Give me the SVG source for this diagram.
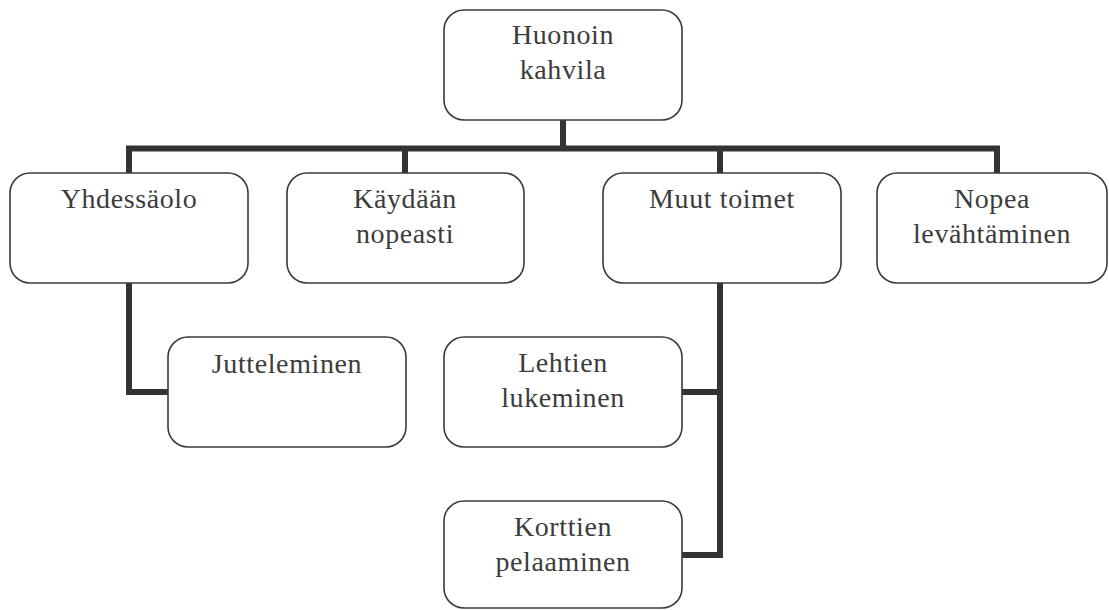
<svg xmlns="http://www.w3.org/2000/svg" width="1109" height="610" viewBox="0 0 1109 610">
  <style>
    .box { fill: #ffffff; stroke: #3a3a3e; stroke-width: 1.6; }
    .link { fill: none; stroke: #333337; stroke-width: 6; stroke-linejoin: miter; }
    .label { font-family: "Liberation Serif", "DejaVu Serif", serif; font-size: 28px; letter-spacing: 0.6px; fill: #3c3c3c; text-anchor: middle; }
  </style>
  <rect width="1109" height="610" fill="#ffffff"/>

  <!-- connectors -->
  <g id="connectors">
    <path class="link" d="M563 120 V148.5"/>
    <path class="link" d="M129 173 V148.5 H997 V173"/>
    <path class="link" d="M405 148.5 V173"/>
    <path class="link" d="M720 148.5 V173"/>
    <path class="link" d="M129 283 V392 H168"/>
    <path class="link" d="M720 283 V555 H682"/>
    <path class="link" d="M720 392 H682"/>
  </g>

  <!-- nodes -->
  <g id="node-huonoin-kahvila">
    <rect class="box" x="444" y="10" width="238" height="110" rx="20"/>
    <text class="label" x="563" y="44">Huonoin</text>
    <text class="label" x="563" y="79">kahvila</text>
  </g>

  <g id="node-yhdessaolo">
    <rect class="box" x="10" y="173" width="238" height="110" rx="20"/>
    <text class="label" x="129" y="208">Yhdessäolo</text>
  </g>

  <g id="node-kaydaan-nopeasti">
    <rect class="box" x="287" y="173" width="237" height="110" rx="20"/>
    <text class="label" x="405" y="208">Käydään</text>
    <text class="label" x="405" y="243">nopeasti</text>
  </g>

  <g id="node-muut-toimet">
    <rect class="box" x="603" y="173" width="238" height="110" rx="20"/>
    <text class="label" x="722" y="208">Muut toimet</text>
  </g>

  <g id="node-nopea-levahtaminen">
    <rect class="box" x="877" y="173" width="230" height="110" rx="20"/>
    <text class="label" x="992" y="208">Nopea</text>
    <text class="label" x="992" y="243">levähtäminen</text>
  </g>

  <g id="node-jutteleminen">
    <rect class="box" x="168" y="337" width="238" height="110" rx="20"/>
    <text class="label" x="287" y="373">Jutteleminen</text>
  </g>

  <g id="node-lehtien-lukeminen">
    <rect class="box" x="444" y="337" width="238" height="110" rx="20"/>
    <text class="label" x="563" y="372">Lehtien</text>
    <text class="label" x="563" y="407">lukeminen</text>
  </g>

  <g id="node-korttien-pelaaminen">
    <rect class="box" x="444" y="501" width="238" height="107" rx="20"/>
    <text class="label" x="563" y="536">Korttien</text>
    <text class="label" x="563" y="571">pelaaminen</text>
  </g>
</svg>
